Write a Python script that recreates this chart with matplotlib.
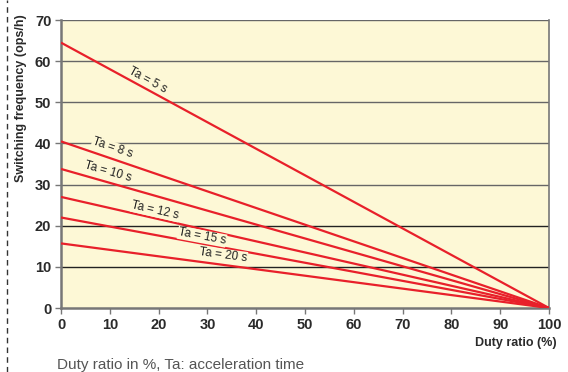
import numpy as np
import matplotlib
matplotlib.use('Agg')
from matplotlib import pyplot as plt
from matplotlib.lines import Line2D

plt.rcParams['font.family'] = ['Liberation Sans', 'DejaVu Sans']

# data
ta_labels = ['Ta = 5 s', 'Ta = 8 s', 'Ta = 10 s', 'Ta = 12 s', 'Ta = 15 s', 'Ta = 20 s']
freq_at_zero = [64.5, 40.5, 33.8, 27.0, 22.0, 15.7]
duty = [0, 100]
label_x = [17.8, 10.5, 9.6, 19.3, 28.9, 33.2]
label_dy = [2.4, 2.6, 2.6, 1.9, 1.7, 2.3]
x_ticks = list(range(0, 101, 10))
y_ticks = list(range(0, 71, 10))

W, H = 568, 372
fig = plt.figure(figsize=(W / 100, H / 100), dpi=100)
ax = fig.add_axes([61 / W, 1 - 308 / H, (549 - 61) / W, (308 - 20) / H])
bg = '#fdf8d6'
ax.set_facecolor(bg)
ax.set_xlim(0, 100)
ax.set_ylim(0, 70)

for y in y_ticks[1:]:
    c = '#666666' if y >= 30 else '#222222'
    ax.axhline(y, color=c, lw=1.0, zorder=1)

red = '#e8202a'
for f0 in freq_at_zero:
    ax.plot(duty, [f0, 0], color=red, lw=1.6, zorder=3, solid_capstyle='butt')

# rotation from pixel slope
px_per_x = (549 - 61) / 100
px_per_y = (308 - 20) / 70
for lab, f0, lx, dy in zip(ta_labels, freq_at_zero, label_x, label_dy):
    ang = np.degrees(np.arctan(f0 * px_per_y / (100 * px_per_x)))
    ly = f0 * (1 - lx / 100) + dy
    ax.text(lx, ly, lab, rotation=-ang, ha='center', va='center',
            fontsize=8.5, color='#222222', zorder=4, rotation_mode='anchor',
            bbox=dict(boxstyle='square,pad=0.05', fc=bg, ec='none'))

for s in ['left', 'bottom', 'right']:
    ax.spines[s].set_color('#777777')
    ax.spines[s].set_linewidth(1.8)
ax.spines['top'].set_visible(False)
ax.spines['right'].set_linewidth(1.2)

ax.set_xticks(x_ticks)
ax.set_yticks(y_ticks)
ax.tick_params(axis='both', color='#777777', length=4, width=1.0,
               labelsize=10.5, labelcolor='#2a2a2a', pad=3)
for t in ax.get_xticklabels() + ax.get_yticklabels():
    t.set_fontweight('bold')

fig.text(557 / W, 1 - 343 / H, 'Duty ratio (%)', ha='right', va='center',
         fontsize=9, fontweight='bold', color='#2a2a2a')
fig.text(21 / W, 1 - 98 / H, 'Switching frequency (ops/h)', rotation=90,
         ha='center', va='center', fontsize=9, fontweight='bold', color='#2a2a2a')
fig.text(57 / W, 1 - 365 / H, 'Duty ratio in %, Ta: acceleration time',
         ha='left', va='center', fontsize=11, color='#555555')

fig.add_artist(Line2D([7 / W, 7 / W], [0, 1], color='#333333', lw=1.0,
                      linestyle=(0, (4, 3)), transform=fig.transFigure))

fig.savefig('out.png', dpi=100)
